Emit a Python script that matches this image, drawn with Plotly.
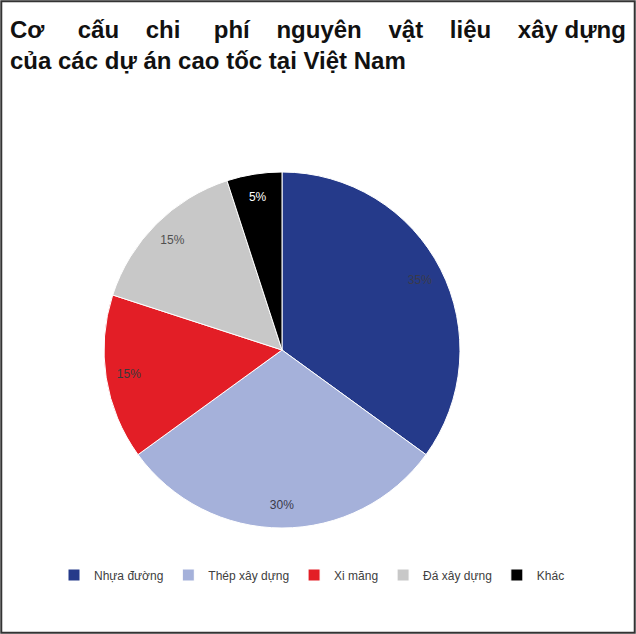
import plotly.graph_objects as go

# Dữ liệu cơ cấu chi phí
nhom = ['Nhựa đường', 'Thép xây dựng', 'Xi măng', 'Đá xây dựng', 'Khác']
ty_le = [35, 30, 15, 15, 5]
mau = ['#253a8a', '#a5b1da', '#e31e26', '#c8c8c8', '#000000']
mau_chu = ['#3a3a4a', '#3a3a4a', '#3a3a3a', '#505050', '#ffffff']

W, H = 636, 634
cx, cy, r = 282, 350, 178

mien = dict(x=[(cx - r) / W, (cx + r) / W],
            y=[(H - cy - r) / H, (H - cy + r) / H])

# lát bánh
fig = go.Figure(go.Pie(
    labels=nhom,
    values=ty_le,
    sort=False,
    direction='clockwise',
    rotation=0,
    marker=dict(colors=mau, line=dict(color='white', width=1)),
    textinfo='none',
    hoverinfo='label+percent',
    domain=mien,
))

# vòng trong suốt để đặt nhãn % gần mép
fig.add_trace(go.Pie(
    labels=nhom,
    values=ty_le,
    sort=False,
    direction='clockwise',
    rotation=0,
    hole=0.74,
    marker=dict(colors=['rgba(0,0,0,0)'] * 5, line=dict(width=0)),
    texttemplate='%{value}%',
    textposition='inside',
    insidetextorientation='horizontal',
    textfont=dict(family='Liberation Sans', size=12, color=mau_chu),
    hoverinfo='skip',
    showlegend=False,
    domain=mien,
))

sp = '\u00a0'
dong1 = ['Cơ', 'cấu', 'chi', 'phí', 'nguyên', 'vật', 'liệu', 'xây dựng']
khoang = [4, 3, 4, 3, 3, 3, 3]
tieu_de_1 = dong1[0]
for t, k in zip(dong1[1:], khoang):
    tieu_de_1 += ' ' + sp * k + t

fig.add_annotation(
    text='<b>' + tieu_de_1 + '<br>của các dự án cao tốc tại Việt Nam</b>',
    xref='paper', yref='paper', x=8 / W, y=1 - 14 / H,
    xanchor='left', yanchor='top', align='left', showarrow=False,
    font=dict(family='Liberation Sans', size=24, color='#111111'),
)

# khung viền
fig.add_shape(type='rect', xref='paper', yref='paper',
              x0=0.002, x1=0.998, y0=0.002, y1=0.998,
              line=dict(color='#333333', width=2))

fig.update_layout(
    width=W, height=H,
    margin=dict(l=0, r=0, t=0, b=0),
    paper_bgcolor='white',
    showlegend=True,
    legend=dict(orientation='h', x=54 / W, y=(H - 575) / H,
                xanchor='left', yanchor='middle', bgcolor='rgba(0,0,0,0)',
                font=dict(family='Liberation Sans', size=12, color='#404040'),
                itemwidth=30),
)

fig.write_html(
    'out.html',
    config={'displayModeBar': False},
    post_script="document.body.style.margin='0';"
                "document.body.style.overflow='hidden';"
                "Plotly.relayout('{plot_id}', {width: %d, height: %d});" % (W, H),
)
